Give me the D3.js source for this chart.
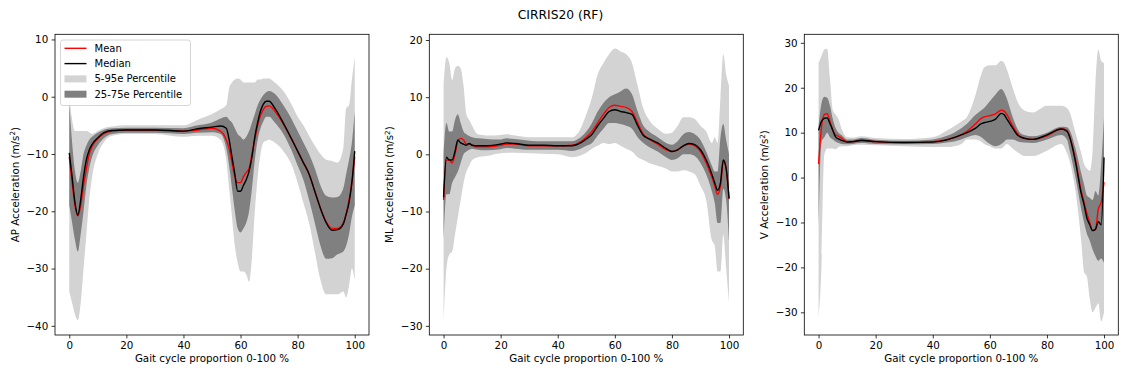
<!DOCTYPE html>
<html>
<head>
<meta charset="utf-8">
<script src="https://cdn.jsdelivr.net/npm/d3@7"></script>
<style>
    body { margin: 0; background: #fff; }
    svg { font-family: 'DejaVu Sans', sans-serif; }
</style>
</head>
<body>
<svg id="chart" width="1121" height="374"></svg>
<script>
// AP panel
const apX      = [0, 1, 2, 3, 4, 5, 6, 7, 8, 10, 12, 15, 20, 30, 40, 45, 50, 53, 55, 56, 57, 58, 59, 60, 61, 62, 63, 64, 65, 66, 67, 68, 69, 70, 72, 75, 78, 80, 82, 84, 86, 88, 90, 92, 94, 96, 97, 98, 99, 100];
const apMean   = [-10.5, -15, -19, -20.8, -19, -15.5, -12.5, -10, -8.7, -7.3, -6.5, -6, -5.8, -5.8, -6, -5.8, -5.5, -6, -7.5, -9, -11.5, -14, -15, -15, -14, -13.2, -12.5, -10, -7.5, -5, -3.3, -2.2, -1.7, -1.6, -2.5, -4.8, -7.5, -9.5, -11.5, -13.5, -16.5, -19.5, -21.8, -23, -23, -22, -20.5, -18, -15, -10.5];
const apMedian = [-9.8, -14, -18.5, -20.7, -18, -14, -11, -9.3, -8.3, -7.2, -6.3, -5.9, -5.8, -5.8, -6, -5.6, -5.3, -5.1, -5.5, -7.5, -10.5, -13.5, -16.5, -16.5, -15.5, -14.5, -13, -10.5, -7, -4.5, -2.5, -1.3, -0.8, -0.8, -2, -4.6, -7.5, -9.5, -11.5, -13.5, -16.5, -19.5, -22, -23.3, -23.2, -22.2, -20.5, -18.5, -15, -9.5];
const apP75    = [-1, -8, -13, -15, -13, -10, -8.5, -7.5, -7, -6.3, -5.8, -5.5, -5.4, -5.4, -5.5, -5, -4.5, -3.8, -3.5, -4, -4.5, -5.5, -6.5, -7, -7.5, -7, -6, -4.5, -3, -1.5, -0.5, 0.3, 0.8, 1, 0.5, -1.5, -4, -6, -8, -10, -12.5, -15.5, -17.3, -17.6, -17.5, -16, -13.5, -11, -8, -2.5];
const apP25    = [-19, -22, -25, -27, -24, -20, -15.5, -12.5, -10.5, -8.5, -7.3, -6.5, -6.3, -6.3, -6.5, -6.3, -6.2, -6.5, -9, -12, -16, -20, -23, -23.7, -23, -22, -20, -16, -11, -7.5, -5.5, -4.3, -3.5, -3.5, -4.5, -6.5, -9.5, -12, -14.5, -18, -22, -26, -28.3, -28.2, -27.5, -27, -26, -24, -21, -19];
const apP95    = [0, -4, -6, -6, -6, -6, -6, -6.2, -6.5, -6, -5.5, -5.2, -5, -5, -5, -4, -3, -2.2, -1.5, 1.5, 2.5, 3, 3.2, 3, 2.5, 2.5, 2.5, 2.5, 2.5, 3, 3, 3.2, 3.2, 3.2, 2.5, 1, -1.5, -3.5, -5, -6.8, -8.5, -10, -11, -11.2, -11.5, -9, -2, -1.5, 3, 7];
const apP5     = [-34, -36, -38, -39, -36, -30, -24, -18, -14, -10, -8, -6.8, -6.5, -6.5, -7, -6.8, -6.8, -7.5, -11, -16, -21, -26, -29, -30.5, -30.5, -31, -32.3, -28, -20, -14, -10, -8, -7.7, -7.5, -8, -9.5, -12, -15, -18.5, -22, -27, -32, -34.5, -34.5, -34.5, -34, -35, -33, -30, -32];

// ML panel
const mlX      = [0, 1, 2, 3, 4, 5, 6, 7, 8, 9, 10, 12, 15, 20, 22, 25, 30, 35, 40, 45, 48, 50, 52, 54, 56, 58, 60, 62, 64, 66, 68, 70, 72, 75, 78, 80, 82, 84, 86, 88, 90, 92, 94, 95, 96, 97, 98, 99, 100];
const mlMean   = [-8, -1, -1, -1.5, 0, 2.3, 2.8, 2.5, 1.8, 1.8, 1.6, 1.3, 1.3, 1.6, 1.8, 1.8, 1.5, 1.5, 1.5, 1.6, 2.2, 3, 4, 5.5, 7, 8.2, 8.6, 8.4, 8.2, 7.5, 5.5, 3.5, 2.7, 1.8, 0.8, 0.5, 0.8, 1.5, 1.8, 1.5, 0.5, -1.5, -4, -5.5, -7, -5.5, -1.2, -2.5, -7.8];
const mlMedian = [-7.5, -0.5, -1, -1, 0.5, 2.5, 2, 1.8, 1.6, 1.9, 1.6, 1.5, 1.5, 1.8, 2, 1.9, 1.6, 1.6, 1.5, 1.5, 2, 2.7, 3.5, 5, 6.3, 7.5, 7.8, 7.5, 7.3, 7, 5, 3.3, 2.7, 2, 1, 0.5, 0.8, 1.5, 1.9, 1.7, 0.8, -1, -3.5, -5, -6.3, -5, -1, -2.5, -7.7];
const mlP75    = [0, 5.5, 4, 4, 6, 7, 5.5, 4, 3.5, 3.2, 3, 2.8, 2.7, 2.6, 2.8, 2.7, 2.4, 2.3, 2.3, 2.3, 3, 4, 5.5, 7.5, 9, 10, 10.5, 11, 11.5, 10.5, 7.5, 5, 4, 3, 2, 1.7, 2.3, 3.5, 3.9, 3.5, 2.5, 0.5, -2, -3, -3, 3, 5.3, 2.5, 0];
const mlP25    = [-15.5, -7, -7, -5, -4, -3, -1.5, 0, 0.5, 0.8, 1, 0.8, 0.7, 0.9, 1.1, 1, 0.8, 0.8, 0.8, 0.6, 1, 1.5, 2, 3.3, 4.5, 5.5, 5.5, 5.3, 5, 4.5, 3, 2, 1.3, 0.5, -0.5, -1, -0.7, 0, 0, -0.3, -1.5, -3.5, -6.5, -8.5, -12, -12, -6, -8, -15.3];
const mlP95    = [12, 17, 16, 13, 15, 15.5, 15, 12, 7, 6, 5, 3.5, 3.3, 3.4, 3.5, 3.3, 3, 3, 3, 3, 4.5, 7, 10, 14, 16, 17.5, 18.5, 18, 17.5, 16, 12, 8, 6, 4.5, 3.6, 3.8, 5, 6.5, 6.5, 6.2, 5, 4, 2, 3, 2, 10, 17.5, 14, 12];
const mlP5     = [-29, -20, -17.5, -17, -14, -11, -8, -5, -3, -2, -1, -0.5, -0.3, 0.2, 0.3, 0.3, 0.2, 0.1, 0, -0.5, -0.2, 0.3, 1, 1.5, 2, 1.8, 2, 1.5, 1, 0.5, -0.5, -1, -1.5, -2, -2.5, -3, -3, -2.8, -3, -3.5, -5.5, -8, -15, -16, -20.5, -20.5, -14, -20, -26];

// V panel
const vX      = [0, 1, 2, 3, 4, 5, 6, 7, 8, 10, 12, 15, 20, 30, 40, 45, 50, 52, 55, 57, 58, 60, 62, 64, 65, 66, 68, 70, 72, 75, 80, 85, 87, 88, 90, 92, 93, 94, 95, 96, 97, 98, 99, 100];
const vMean   = [3, 11, 14, 14.2, 12.5, 10.5, 9.5, 9.2, 8.8, 8, 8, 8.2, 8, 7.8, 8, 8.5, 9.5, 10.3, 12, 13.2, 13.5, 13.8, 14.2, 15, 14.8, 14, 11.5, 9.5, 8.7, 8.5, 9.3, 10.8, 10.5, 9, 4, -3, -5.5, -8, -10, -11.8, -11.5, -7, -5.5, -1];
const vMedian = [10.5, 12.5, 13.2, 13.3, 12, 10.5, 9, 8.6, 8.3, 7.9, 8, 8.3, 8, 7.8, 7.9, 8.4, 9.5, 10, 11, 12, 12.2, 12.5, 13, 14.3, 14, 13, 11, 9.3, 8.8, 8.5, 9.5, 10.8, 10.3, 9, 3.5, -3.5, -6, -9, -10.5, -11.8, -11.5, -9.8, -10.5, 4.5];
const vP75    = [11.5, 16.5, 18, 17.8, 16, 13, 11, 10, 9.5, 8.5, 8.5, 8.8, 8.4, 8.2, 8.5, 9.3, 11, 12, 14, 15, 15.5, 17, 18.5, 19.7, 19, 17.5, 13.5, 10.5, 9.5, 9.2, 10, 11.3, 11.2, 10.5, 6.5, 1, -1.5, -4, -4.5, -5, -3, -4, 3, 13.5];
const vP25    = [-12, 8, 9, 10, 9, 8.5, 8, 7.7, 7.5, 7.4, 7.5, 7.7, 7.5, 7.4, 7.5, 7.8, 8.5, 9, 9.5, 9, 8.5, 7.5, 7, 7.5, 8, 8.5, 8.5, 8, 7.8, 7.7, 8.5, 9.5, 8.5, 6, 0, -7, -10, -12.5, -14, -16, -17.5, -18.5, -18, -19];
const vP95    = [25.5, 27, 28.5, 28.7, 22, 15, 14, 13, 11, 9, 8.9, 9.2, 8.8, 8.6, 9, 10.5, 12.5, 13.5, 18.5, 23, 24.5, 25, 25, 26, 25.5, 24, 20, 16.5, 15, 14.5, 16, 16, 15.5, 14.5, 10, 5.5, 3, 2, 1.5, 6, 21, 28.5, 26, 25.5];
const vP5     = [-31.5, -20, 5, 6.5, 6.5, 6.5, 6.3, 6.8, 7, 7, 7.2, 7.3, 7.2, 7, 6.8, 6.8, 7.5, 8.5, 8.5, 8, 7.5, 7, 6.5, 6.5, 7, 7.5, 6.5, 5.5, 4.8, 4.8, 6, 7.5, 5.5, 3.5, -3, -14, -21, -22, -27, -30, -29, -28, -32, -30];

const xTicks = [0, 20, 40, 60, 80, 100];
const titleText = 'CIRRIS20 (RF)';
const xLabel = 'Gait cycle proportion 0-100 %';
const legendLabels = ['Mean', 'Median', '5-95e Percentile', '25-75e Percentile'];

let panels = [
    { name: 'AP', x: apX, mean: apMean, median: apMedian, p5: apP5, p95: apP95, p25: apP25, p75: apP75, domain: [-41.6, 10.9], ticks: [-40, -30, -20, -10, 0, 10], legend: true },
    { name: 'ML', x: mlX, mean: mlMean, median: mlMedian, p5: mlP5, p95: mlP95, p25: mlP25, p75: mlP75, domain: [-31.6, 21.0], ticks: [-30, -20, -10, 0, 10, 20], legend: false },
    { name: 'V', x: vX, mean: vMean, median: vMedian, p5: vP5, p95: vP95, p25: vP25, p75: vP75, domain: [-35.05, 31.9], ticks: [-30, -20, -10, 0, 10, 20, 30], legend: false }
];

let width = 1121;
let height = 374;
let panelLefts = [55, 429.3, 804.3];
let plotTop = 34.3;
let plotWidth = 314;
let plotHeight = 300.7;
let fontSize = 10.3;
let legendFontSize = 10;
let lightColor = '#d3d3d3';
let darkColor = '#808080';

let svg = d3.select('#chart');

svg.append('text')
    .attr('x', width / 2)
    .attr('y', 18.5)
    .attr('text-anchor', 'middle')
    .style('font-size', '12.3px')
    .text(titleText);

panels.forEach((panel, i) => {
    let group = svg.append('g')
        .attr('transform', `translate(${panelLefts[i]},${plotTop})`);
    drawPanel(group, panel);
});

function drawPanel(container, panel) {
    let xScale = d3.scaleLinear()
        .domain([-5, 105])
        .range([0, plotWidth]);
    let yScale = d3.scaleLinear()
        .domain(panel.domain)
        .range([plotHeight, 0]);

    let rows = panel.x.map((x, k) => ({
        x: x,
        mean: panel.mean[k],
        median: panel.median[k],
        p5: panel.p5[k],
        p95: panel.p95[k],
        p25: panel.p25[k],
        p75: panel.p75[k]
    }));

    let curve = d3.curveMonotoneX;
    let band = (lo, hi) => d3.area()
        .x(d => xScale(d.x))
        .y0(d => yScale(d[lo]))
        .y1(d => yScale(d[hi]))
        .curve(curve);
    let line = key => d3.line()
        .x(d => xScale(d.x))
        .y(d => yScale(d[key]))
        .curve(curve);

    let clipId = 'clip-' + panel.name;
    container.append('clipPath')
        .attr('id', clipId)
        .append('rect')
        .attr('width', plotWidth)
        .attr('height', plotHeight);

    let series = container.append('g')
        .attr('clip-path', `url(#${clipId})`);
    series.append('path')
        .datum(rows)
        .attr('d', band('p5', 'p95'))
        .style('fill', lightColor);
    series.append('path')
        .datum(rows)
        .attr('d', band('p25', 'p75'))
        .style('fill', darkColor);
    series.append('path')
        .datum(rows)
        .attr('d', line('mean'))
        .style('fill', 'none')
        .style('stroke', '#ff0000')
        .style('stroke-width', 1.4);
    series.append('path')
        .datum(rows)
        .attr('d', line('median'))
        .style('fill', 'none')
        .style('stroke', '#000')
        .style('stroke-width', 1.4);

    let xAxis = d3.axisBottom(xScale)
        .tickValues(xTicks)
        .tickSize(3.4)
        .tickPadding(3.4);
    let yAxis = d3.axisLeft(yScale)
        .tickValues(panel.ticks)
        .tickSize(3.4)
        .tickPadding(3.4);

    let xAxisGroup = container.append('g')
        .attr('transform', `translate(0,${plotHeight})`)
        .call(xAxis);
    let yAxisGroup = container.append('g')
        .call(yAxis);
    [xAxisGroup, yAxisGroup].forEach(g => {
        g.select('.domain').remove();
        g.selectAll('line').style('stroke', '#000').style('stroke-width', 0.8);
        g.selectAll('text')
            .style('font-family', "'DejaVu Sans', sans-serif")
            .style('font-size', fontSize + 'px')
            .style('fill', '#000');
    });

    container.append('rect')
        .attr('width', plotWidth)
        .attr('height', plotHeight)
        .style('fill', 'none')
        .style('stroke', '#000')
        .style('stroke-width', 0.8);

    container.append('text')
        .attr('x', plotWidth / 2)
        .attr('y', plotHeight + 27.5)
        .attr('text-anchor', 'middle')
        .style('font-size', fontSize + 'px')
        .text(xLabel);

    let yLabel = container.append('text')
        .attr('transform', `translate(-36,${plotHeight / 2}) rotate(-90)`)
        .attr('text-anchor', 'middle')
        .style('font-size', fontSize + 'px');
    yLabel.append('tspan').text(panel.name + ' Acceleration (m/s');
    yLabel.append('tspan').attr('dy', -3.8).style('font-size', '7.2px').text('2');
    yLabel.append('tspan').attr('dy', 3.8).text(')');

    if (panel.legend) drawLegend(container);
}

function drawLegend(container) {
    let legend = container.append('g')
        .attr('transform', `translate(${60.5 - panelLefts[0]},${40 - plotTop})`);
    legend.append('rect')
        .attr('width', 130)
        .attr('height', 65.5)
        .attr('rx', 2.5)
        .style('fill', '#fff')
        .style('fill-opacity', 0.8)
        .style('stroke', '#cccccc')
        .style('stroke-width', 0.8);

    let handles = [
        { type: 'line', color: '#ff0000' },
        { type: 'line', color: '#000' },
        { type: 'patch', color: lightColor },
        { type: 'patch', color: darkColor }
    ];
    handles.forEach((h, k) => {
        let cy = 8.3 + k * 15.3;
        if (h.type === 'line') {
            legend.append('line')
                .attr('x1', 4)
                .attr('x2', 26)
                .attr('y1', cy)
                .attr('y2', cy)
                .style('stroke', h.color)
                .style('stroke-width', 1.4);
        } else {
            legend.append('rect')
                .attr('x', 4)
                .attr('y', cy - 3.5)
                .attr('width', 22)
                .attr('height', 7)
                .style('fill', h.color);
        }
        legend.append('text')
            .attr('x', 34)
            .attr('y', cy)
            .attr('dy', '0.35em')
            .style('font-size', legendFontSize + 'px')
            .text(legendLabels[k]);
    });
}
</script>
</body>
</html>
